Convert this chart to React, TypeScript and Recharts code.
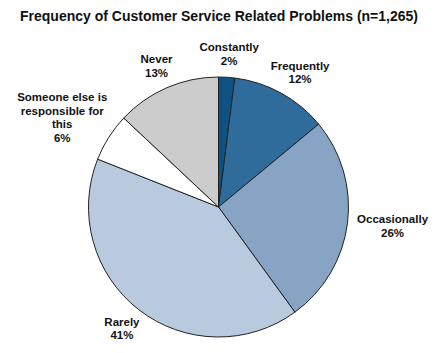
import { Cell, Pie, PieChart } from "recharts";

const categories = [
  "Constantly",
  "Frequently",
  "Occasionally",
  "Rarely",
  "Someone else is\nresponsible for\nthis",
  "Never",
];
const shares = [2, 12, 26, 41, 6, 13];
const colors = ["#0d5282", "#2f6b9b", "#87a4c4", "#b9cadf", "#ffffff", "#cccccc"];

const data = categories.map((name, i) => ({ name, value: shares[i] }));

const RAD = Math.PI / 180;
const FONT = 11.5;
const LINE_H = 13.5;
const FAMILY = "Liberation Sans, Arial, sans-serif";

let ctx: CanvasRenderingContext2D | null = null;
function textWidth(s: string) {
  if (!ctx) ctx = document.createElement("canvas").getContext("2d");
  if (!ctx) return s.length * FONT * 0.58;
  ctx.font = `bold ${FONT}px ${FAMILY}`;
  return ctx.measureText(s).width;
}

// place each label box just outside the rim, pushed out along its mid angle
function renderLabel(props: any) {
  const { cx, cy, midAngle, outerRadius, name, value } = props;
  const lines = [...String(name).split("\n"), `${value}%`];
  const w = Math.max(...lines.map(textWidth));
  const h = lines.length * LINE_H;
  const dx = Math.cos(-midAngle * RAD);
  const dy = Math.sin(-midAngle * RAD);
  const r = outerRadius + 10;
  const x = cx + r * dx + dx * (w / 2);
  const y = cy + r * dy + dy * (h / 2);
  const top = y - h / 2 + LINE_H / 2;
  return (
    <text
      x={x}
      y={top}
      textAnchor="middle"
      dominantBaseline="central"
      fill="#111"
      style={{ fontSize: FONT, fontWeight: 700, fontFamily: FAMILY }}
    >
      {lines.map((l, i) => (
        <tspan key={i} x={x} y={top + i * LINE_H}>
          {l}
        </tspan>
      ))}
    </text>
  );
}

export default function App() {
  return (
    <div
      style={{
        position: "absolute",
        left: 0,
        top: 0,
        width: 435,
        height: 353,
        background: "#fff",
      }}
    >
      <PieChart width={435} height={353} margin={{ top: 0, right: 0, bottom: 0, left: 0 }}>
        <Pie
          data={data}
          dataKey="value"
          nameKey="name"
          cx={218.5}
          cy={207}
          outerRadius={130}
          startAngle={90}
          endAngle={-270}
          stroke="#222"
          strokeWidth={1}
          label={renderLabel}
          labelLine={false}
          isAnimationActive={false}
        >
          {data.map((d, i) => (
            <Cell key={d.name} fill={colors[i]} />
          ))}
        </Pie>
      </PieChart>
      {/* title */}
      <div
        style={{
          position: "absolute",
          left: 0,
          top: 8,
          width: 438,
          textAlign: "center",
          fontFamily: FAMILY,
          fontWeight: 700,
          fontSize: 14,
          color: "#111",
        }}
      >
        Frequency of Customer Service Related Problems (n=1,265)
      </div>
    </div>
  );
}
